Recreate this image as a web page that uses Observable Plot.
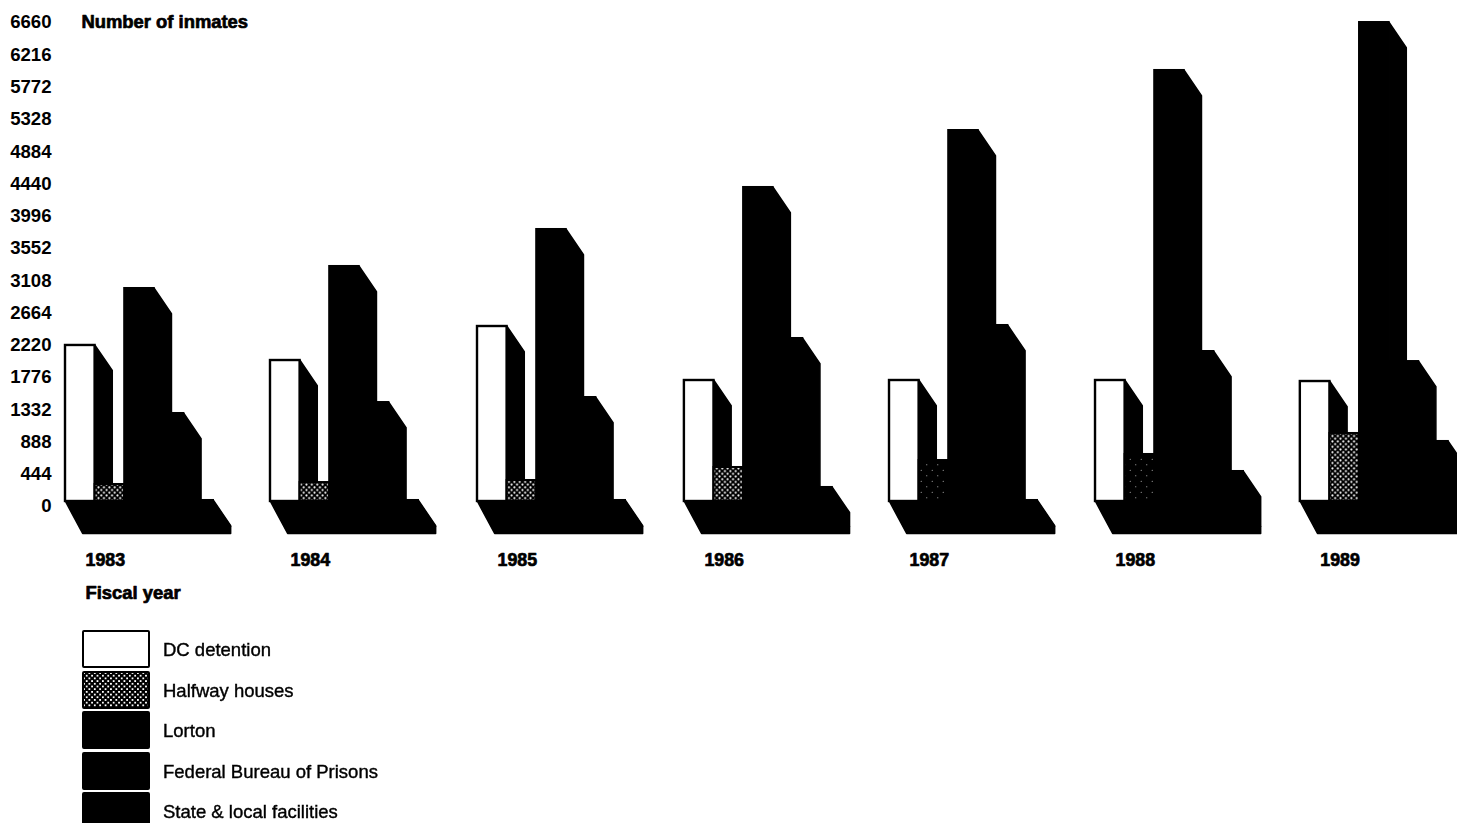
<!DOCTYPE html>
<html>
<head>
<meta charset="utf-8">
<script src="https://cdn.jsdelivr.net/npm/d3@7"></script>
<script src="https://cdn.jsdelivr.net/npm/@observablehq/plot@0.6"></script>
<style>
html,body{margin:0;padding:0;background:#fff;overflow:hidden;width:1457px;height:823px}
#page{position:relative;width:1457px;height:823px;overflow:hidden;filter:blur(0.55px);font-family:"Liberation Sans",Arial,sans-serif;color:#000}
#chart svg{display:block;max-width:none;background:#fff}
#legend{position:absolute;left:82px;top:630px}
.row{position:absolute;left:0;height:37px;width:400px}
.sw{position:absolute;left:0;top:0;width:64px;height:34px;border:2px solid #000;background:#000;border-radius:2px}
.lb{position:absolute;left:81px;top:9px;font-size:18.5px;line-height:22px;white-space:nowrap;-webkit-text-stroke:0.4px #000}
</style>
</head>
<body>
<div id="page"><div id="chart"></div><div id="legend"></div></div>
<script>
const years = [1983, 1984, 1985, 1986, 1987, 1988, 1989];
const groupStarts = [0, 6.926, 13.92, 20.91, 27.84, 34.8, 41.72];
const seriesNames = ["DC detention", "Halfway houses", "Lorton", "Federal Bureau of Prisons", "State & local facilities"];
const dcDetention = [2147, 1940, 2408, 1665, 1665, 1665, 1651];
const halfwayHouses = [234, 261, 289, 468, 564, 647, 936];
const lorton = [2931, 3234, 3743, 4321, 5105, 5931, 6591];
const federalBureau = [1211, 1362, 1431, 2243, 2422, 2064, 1926];
const stateLocal = [14, 14, 14, 193, 14, 413, 826];
const yTicks = [6660, 6216, 5772, 5328, 4884, 4440, 3996, 3552, 3108, 2664, 2220, 1776, 1332, 888, 444, 0];
const denseYears = [1987, 1988];

const allSeries = [dcDetention, halfwayHouses, lorton, federalBureau, stateLocal];
const depthX = 0.58, depthV = 345, floorV = 440;

const bars = allSeries.map((vals, s) => vals.map((v, i) => ({
  year: years[i], s, v, x1: groupStarts[i] + s, x2: groupStarts[i] + s + 1
})));

function sidePts(rows) {
  return rows.flatMap((b, k) => [
    {k, x: b.x2, y: b.v},
    {k, x: b.x2 + depthX, y: b.v - depthV},
    {k, x: b.x2 + depthX, y: -depthV},
    {k, x: b.x2, y: 0},
    {k, x: b.x2, y: b.v}
  ]);
}
const floorPts = groupStarts.flatMap((g, k) => [
  {k, x: g, y: 0},
  {k, x: g + 5, y: 0},
  {k, x: g + 5 + depthX, y: -depthV},
  {k, x: g + 5 + depthX, y: -floorV},
  {k, x: g + depthX, y: -floorV},
  {k, x: g, y: 0}
]);

function patternDefs() {
  const defs = d3.create("svg:defs");
  const mk = (id, size, r, color) => {
    const p = defs.append("pattern").attr("id", id).attr("patternUnits", "userSpaceOnUse")
      .attr("width", size).attr("height", size);
    p.append("rect").attr("width", size).attr("height", size).attr("fill", "#000");
    p.append("circle").attr("cx", size * .25).attr("cy", size * .25).attr("r", r).attr("fill", color);
    p.append("circle").attr("cx", size * .75).attr("cy", size * .75).attr("r", r).attr("fill", color);
  };
  mk("hwDots", 5.4, 1.05, "#fff");
  mk("hwDense", 11, 0.6, "#bbb");
  return defs.node();
}

const textStyle = {fontWeight: "bold", fontSize: 18, fill: "#000", stroke: "#000", strokeWidth: 0.7};

const marks = [patternDefs];
marks.push(Plot.line(floorPts, {x: "x", y: "y", z: "k", fill: "#000", stroke: "#000"}));
bars.forEach((rows, s) => {
  marks.push(Plot.line(sidePts(rows), {x: "x", y: "y", z: "k", fill: "#000", stroke: "#000"}));
  const rectOpts = {x1: "x1", x2: "x2", y1: 0, y2: "v", stroke: "#000", strokeWidth: 2, inset: 0};
  if (s === 0) {
    marks.push(Plot.rect(rows, {...rectOpts, fill: "#fff", strokeWidth: 2.4}));
  } else if (s === 1) {
    marks.push(Plot.rect(rows.filter(b => !denseYears.includes(b.year)), {...rectOpts, fill: "url(#hwDots)"}));
    marks.push(Plot.rect(rows.filter(b => denseYears.includes(b.year)), {...rectOpts, fill: "url(#hwDense)"}));
  } else {
    marks.push(Plot.rect(rows, {...rectOpts, fill: "#000"}));
  }
});
marks.push(Plot.axisY(yTicks, {anchor: "left", tickSize: 0, tickPadding: 14, dy: 5, label: null, tickFormat: d => String(d), ...textStyle, fontSize: 18.6}));
marks.push(Plot.text(["Number of inmates"], {x: 0, y: 6660, dx: 16, dy: 5, textAnchor: "start", ...textStyle, fontSize: 18.4}));
marks.push(Plot.text(years, {x: (d, i) => groupStarts[i], text: d => String(d), frameAnchor: "bottom", dx: 20, dy: 64, textAnchor: "start", ...textStyle, fontSize: 17.8}));
marks.push(Plot.text(["Fiscal year"], {x: 0, frameAnchor: "bottom", dx: 20, dy: 97, textAnchor: "start", ...textStyle, fontSize: 18.4}));

const plot = Plot.plot({
  width: 1457,
  height: 630,
  marginLeft: 65, marginRight: 0, marginTop: 17, marginBottom: 129,
  x: {domain: [0, 47.03], axis: null},
  y: {domain: [0, 6660], axis: null},
  marks,
  style: {fontFamily: "'Liberation Sans', Arial, sans-serif", background: "#fff", overflow: "visible"}
});
document.getElementById("chart").append(plot);

const legend = d3.select("#legend");
seriesNames.forEach((name, i) => {
  const row = legend.append("div").attr("class", "row").style("top", (i * 40.6) + "px");
  const sw = row.append("div").attr("class", "sw");
  if (i === 0) sw.style("background", "#fff");
  if (i === 1) sw.style("background-color", "#000")
    .style("background-image", "radial-gradient(circle, #fff 0.9px, transparent 1.2px), radial-gradient(circle, #fff 0.9px, transparent 1.2px)")
    .style("background-size", "5.4px 5.4px").style("background-position", "0 0, 2.7px 2.7px");
  row.append("div").attr("class", "lb").text(name);
});
</script>
</body>
</html>
